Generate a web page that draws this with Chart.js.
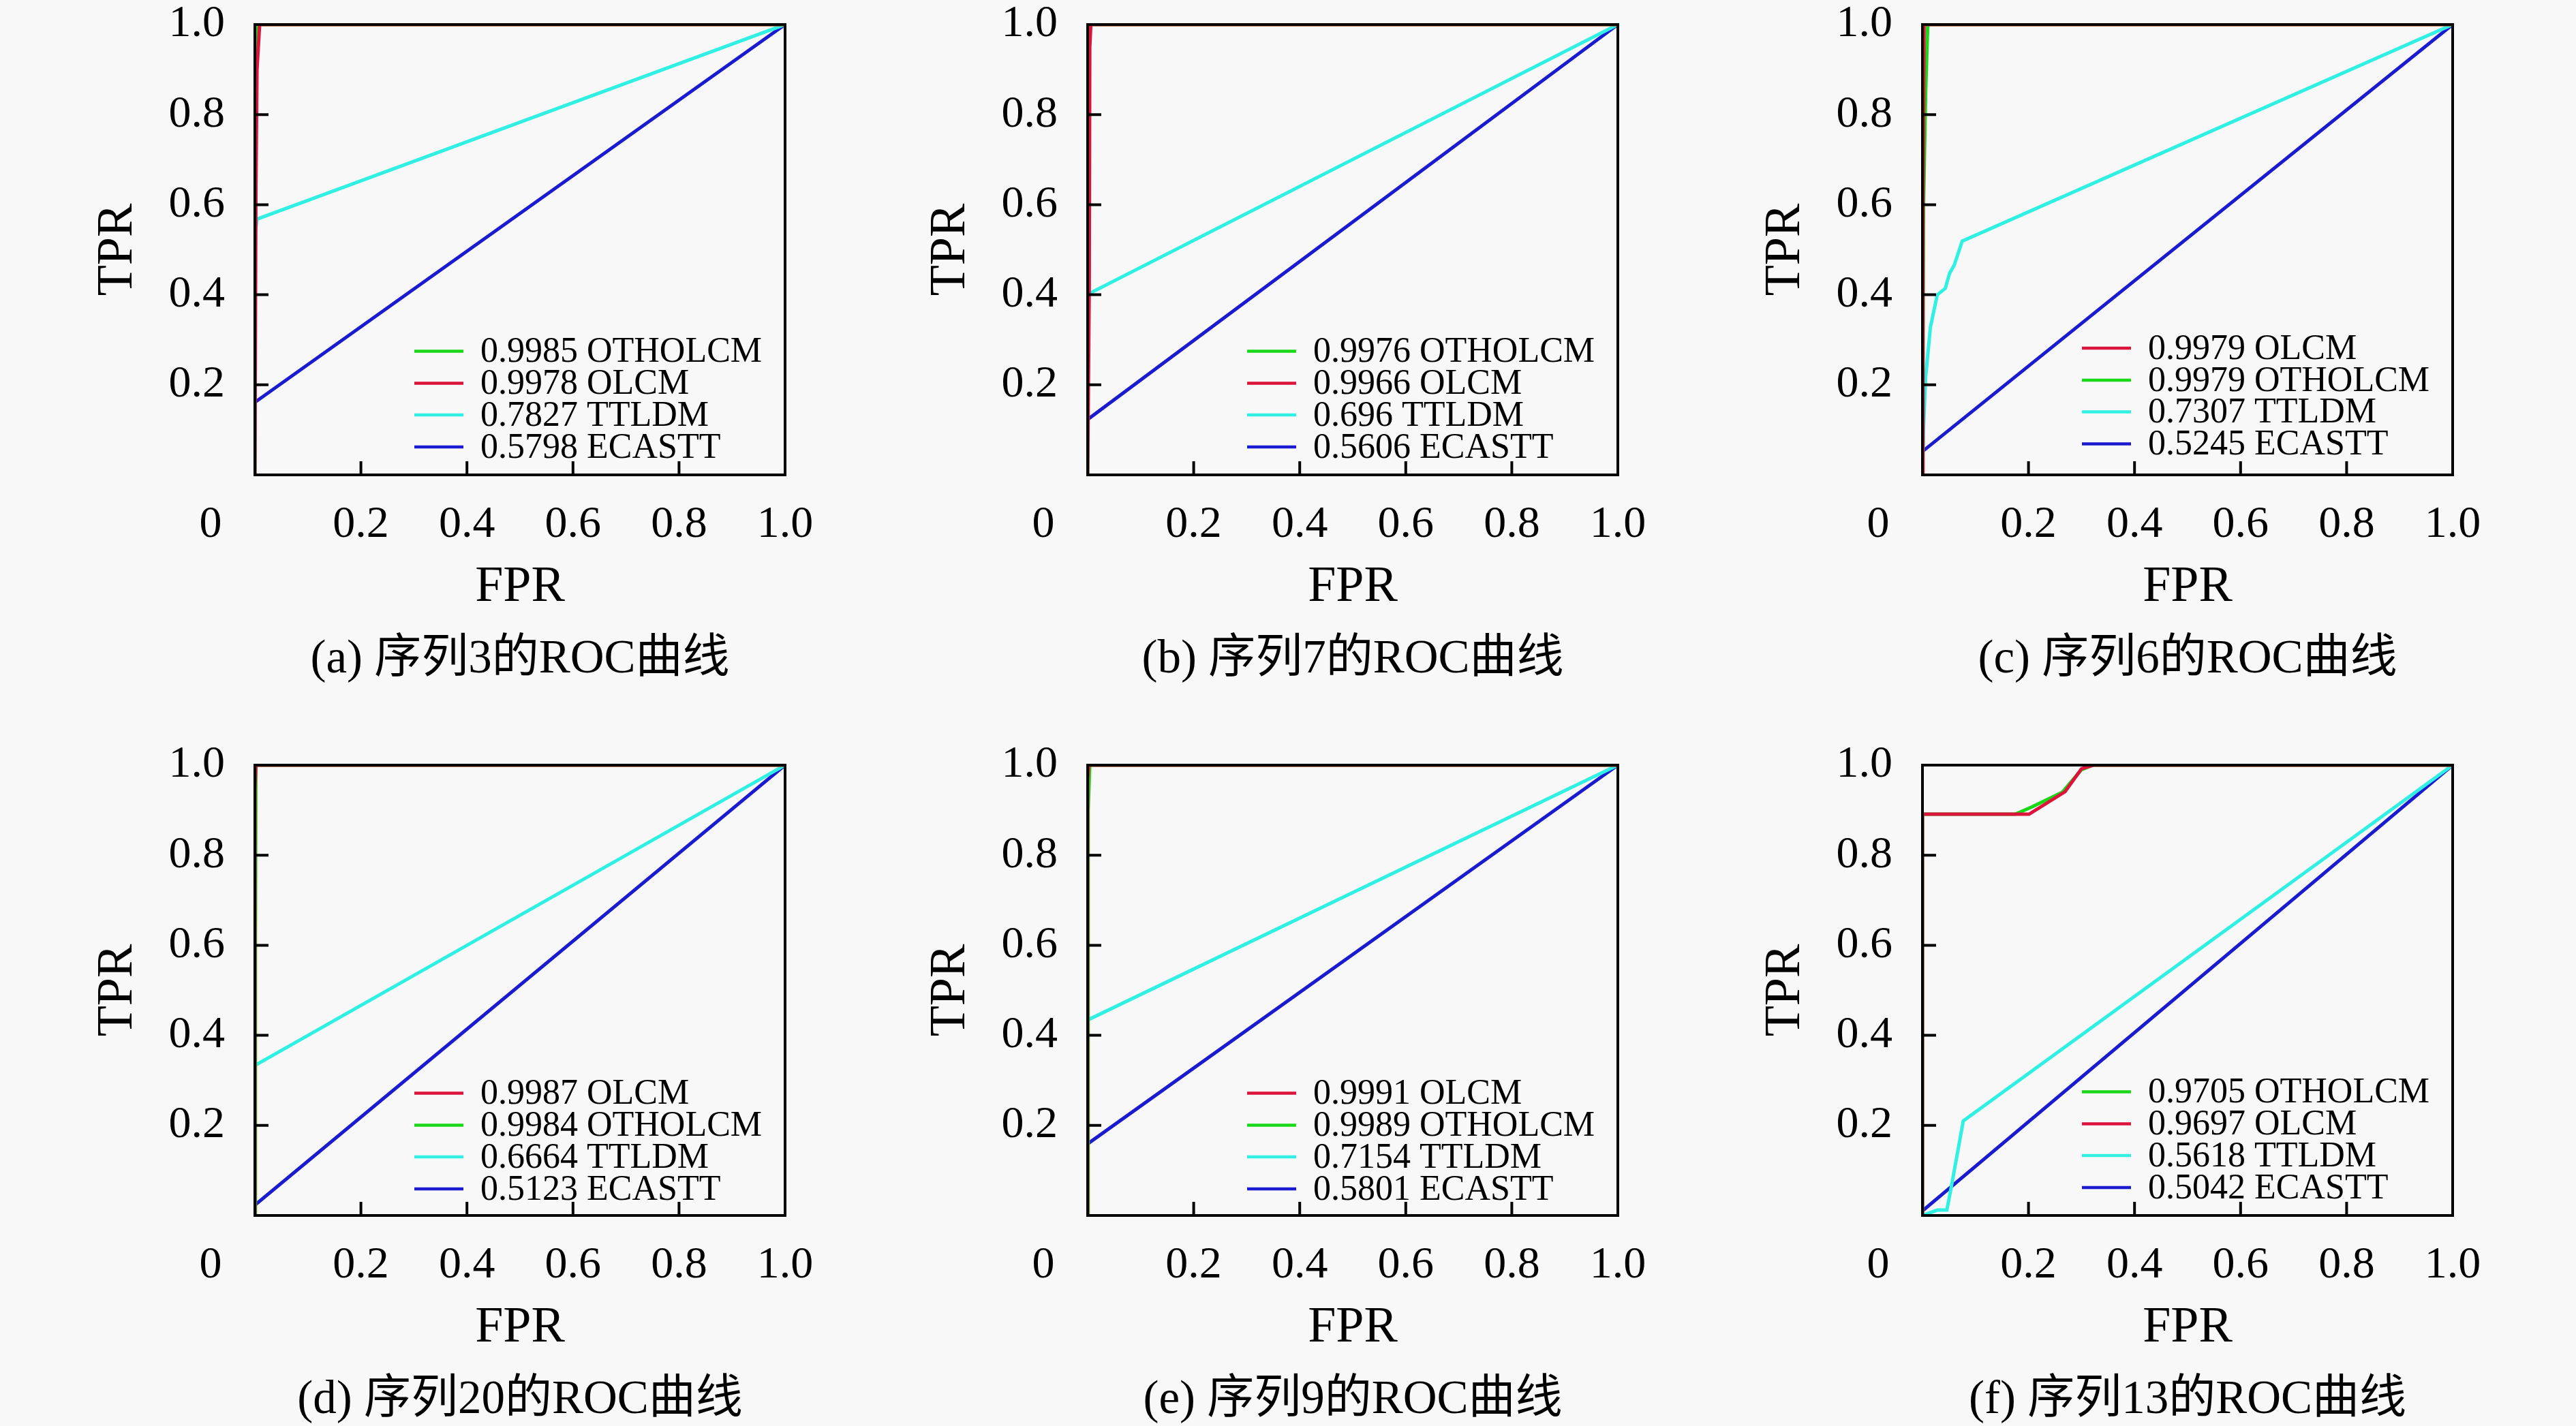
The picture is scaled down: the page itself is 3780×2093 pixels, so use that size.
<!DOCTYPE html>
<html>
<head>
<meta charset="utf-8">
<script src="https://cdn.jsdelivr.net/npm/chart.js@4.4.1/dist/chart.umd.min.js"></script>
<style>
  html, body { margin: 0; padding: 0; background: #f8f8f8; }
  #page { position: relative; width: 3780px; height: 2093px; overflow: hidden; background: #f8f8f8; }
  canvas { position: absolute; }
</style>
</head>
<body>
<div id="page"></div>
<script>
// ---------------- DATA ----------------
const CAPTIONS = ['(a) 序列3的ROC曲线', '(b) 序列7的ROC曲线', '(c) 序列6的ROC曲线',
                  '(d) 序列20的ROC曲线', '(e) 序列9的ROC曲线', '(f) 序列13的ROC曲线'];
const X_TITLE = 'FPR';
const Y_TITLE = 'TPR';

// (a) sequence 3
const A_METHODS = ['OTHOLCM', 'OLCM', 'TTLDM', 'ECASTT'];
const A_AUC = ['0.9985', '0.9978', '0.7827', '0.5798'];
const A_OTHOLCM_FPR = [0, 0, 0.003, 0.006, 1];
const A_OTHOLCM_TPR = [0, 0.70, 0.95, 1, 1];
const A_OLCM_FPR = [0, 0.002, 0.004, 0.009, 1];
const A_OLCM_TPR = [0, 0.64, 0.90, 1, 1];
const A_TTLDM_FPR = [0, 0, 0.004, 1];
const A_TTLDM_TPR = [0, 0.53, 0.568, 1];
const A_ECASTT_FPR = [0, 1];
const A_ECASTT_TPR = [0.161, 1];

// (b) sequence 7
const B_METHODS = ['OTHOLCM', 'OLCM', 'TTLDM', 'ECASTT'];
const B_AUC = ['0.9976', '0.9966', '0.696', '0.5606'];
const B_OTHOLCM_FPR = [0, 0, 0.003, 1];
const B_OTHOLCM_TPR = [0, 0.90, 1, 1];
const B_OLCM_FPR = [0, 0.003, 0.004, 0.006, 1];
const B_OLCM_TPR = [0, 0.42, 0.95, 1, 1];
const B_TTLDM_FPR = [0, 0, 1];
const B_TTLDM_TPR = [0, 0.401, 1];
const B_ECASTT_FPR = [0, 1];
const B_ECASTT_TPR = [0.123, 1];

// (c) sequence 6
const C_METHODS = ['OLCM', 'OTHOLCM', 'TTLDM', 'ECASTT'];
const C_AUC = ['0.9979', '0.9979', '0.7307', '0.5245'];
const C_OLCM_FPR = [0, 0.001, 0.003, 1];
const C_OLCM_TPR = [0, 0.60, 1, 1];
const C_OTHOLCM_FPR = [0, 0.002, 0.006, 0.010, 1];
const C_OTHOLCM_TPR = [0, 0.60, 0.85, 1, 1];
const C_TTLDM_FPR = [0, 0.002, 0.006, 0.015, 0.028, 0.043, 0.051, 0.060, 0.075, 1];
const C_TTLDM_TPR = [0, 0.105, 0.217, 0.328, 0.400, 0.414, 0.447, 0.466, 0.519, 1];
const C_ECASTT_FPR = [0, 1];
const C_ECASTT_TPR = [0.052, 1];

// (d) sequence 20
const D_METHODS = ['OLCM', 'OTHOLCM', 'TTLDM', 'ECASTT'];
const D_AUC = ['0.9987', '0.9984', '0.6664', '0.5123'];
const D_OLCM_FPR = [0, 0, 0.002, 1];
const D_OLCM_TPR = [0, 0.95, 1, 1];
const D_OTHOLCM_FPR = [0, 0.001, 0.002, 1];
const D_OTHOLCM_TPR = [0, 0.60, 1, 1];
const D_TTLDM_FPR = [0, 0, 1];
const D_TTLDM_TPR = [0, 0.333, 1];
const D_ECASTT_FPR = [0, 1];
const D_ECASTT_TPR = [0.023, 1];

// (e) sequence 9
const E_METHODS = ['OLCM', 'OTHOLCM', 'TTLDM', 'ECASTT'];
const E_AUC = ['0.9991', '0.9989', '0.7154', '0.5801'];
const E_OLCM_FPR = [0, 0, 0.002, 1];
const E_OLCM_TPR = [0, 0.97, 1, 1];
const E_OTHOLCM_FPR = [0, 0.001, 0.004, 1];
const E_OTHOLCM_TPR = [0, 0.90, 1, 1];
const E_TTLDM_FPR = [0, 0, 1];
const E_TTLDM_TPR = [0, 0.434, 1];
const E_ECASTT_FPR = [0, 1];
const E_ECASTT_TPR = [0.159, 1];

// (f) sequence 13
const F_METHODS = ['OTHOLCM', 'OLCM', 'TTLDM', 'ECASTT'];
const F_AUC = ['0.9705', '0.9697', '0.5618', '0.5042'];
const F_OTHOLCM_FPR = [0, 0, 0.175, 0.206, 0.264, 0.300, 0.322, 1];
const F_OTHOLCM_TPR = [0, 0.891, 0.891, 0.907, 0.940, 0.990, 1, 1];
const F_OLCM_FPR = [0, 0, 0.201, 0.269, 0.300, 0.322, 1];
const F_OLCM_TPR = [0, 0.891, 0.891, 0.941, 0.992, 1, 1];
const F_TTLDM_FPR = [0, 0.028, 0.046, 0.054, 0.077, 1];
const F_TTLDM_TPR = [0, 0.012, 0.012, 0.061, 0.210, 1];
const F_ECASTT_FPR = [0, 1];
const F_ECASTT_TPR = [0.010, 1];

const PANEL_SERIES = [
  { methods: A_METHODS, auc: A_AUC, fpr: [A_OTHOLCM_FPR, A_OLCM_FPR, A_TTLDM_FPR, A_ECASTT_FPR], tpr: [A_OTHOLCM_TPR, A_OLCM_TPR, A_TTLDM_TPR, A_ECASTT_TPR] },
  { methods: B_METHODS, auc: B_AUC, fpr: [B_OTHOLCM_FPR, B_OLCM_FPR, B_TTLDM_FPR, B_ECASTT_FPR], tpr: [B_OTHOLCM_TPR, B_OLCM_TPR, B_TTLDM_TPR, B_ECASTT_TPR] },
  { methods: C_METHODS, auc: C_AUC, fpr: [C_OLCM_FPR, C_OTHOLCM_FPR, C_TTLDM_FPR, C_ECASTT_FPR], tpr: [C_OLCM_TPR, C_OTHOLCM_TPR, C_TTLDM_TPR, C_ECASTT_TPR] },
  { methods: D_METHODS, auc: D_AUC, fpr: [D_OLCM_FPR, D_OTHOLCM_FPR, D_TTLDM_FPR, D_ECASTT_FPR], tpr: [D_OLCM_TPR, D_OTHOLCM_TPR, D_TTLDM_TPR, D_ECASTT_TPR] },
  { methods: E_METHODS, auc: E_AUC, fpr: [E_OLCM_FPR, E_OTHOLCM_FPR, E_TTLDM_FPR, E_ECASTT_FPR], tpr: [E_OLCM_TPR, E_OTHOLCM_TPR, E_TTLDM_TPR, E_ECASTT_TPR] },
  { methods: F_METHODS, auc: F_AUC, fpr: [F_OTHOLCM_FPR, F_OLCM_FPR, F_TTLDM_FPR, F_ECASTT_FPR], tpr: [F_OTHOLCM_TPR, F_OLCM_TPR, F_TTLDM_TPR, F_ECASTT_TPR] }
];

// ---------------- STYLE / LAYOUT ----------------
const METHOD_COLOR = { OTHOLCM: '#18d818', OLCM: '#dc143c', TTLDM: '#30f0e4', ECASTT: '#1a1ad0' };
const METHOD_ORDER = { OLCM: 1, OTHOLCM: 2, TTLDM: 3, ECASTT: 4 }; // lower = drawn on top
const FRAME_POS = [[374, 36], [1596, 36], [2821, 36], [374, 1123], [1596, 1123], [2821, 1123]];
const LEGEND_SHIFT = [0, 0, -4.5, 2, 2, 0];
const FRAME_W = 778, FRAME_H = 661;
const CANVAS_W = 1250, CANVAS_H = 1050;
const LEFT_W = 374, TOP_PAD = 80;
const SERIF = '"Liberation Serif", "Noto Sans CJK SC", serif';

const decorPlugin = {
  id: 'decor',
  afterDatasetsDraw(chart, args, opts) {
    const { ctx, chartArea: ca } = chart;
    const xs = chart.scales.x, ys = chart.scales.y;
    ctx.save();
    // frame
    ctx.strokeStyle = '#000';
    ctx.lineWidth = 4;
    ctx.strokeRect(ca.left, ca.top, ca.right - ca.left, ca.bottom - ca.top);
    // inward tick marks
    ctx.lineWidth = 4;
    ctx.beginPath();
    xs.ticks.forEach(t => {
      if (t.value > 1e-6 && t.value < 1 - 1e-6) {
        const px = xs.getPixelForValue(t.value);
        ctx.moveTo(px, ca.bottom); ctx.lineTo(px, ca.bottom - 20);
      }
    });
    ys.ticks.forEach(t => {
      if (t.value > 1e-6 && t.value < 1 - 1e-6) {
        const py = ys.getPixelForValue(t.value);
        ctx.moveTo(ca.left, py); ctx.lineTo(ca.left + 20, py);
      }
    });
    ctx.stroke();
    // legend
    const rows = [-181.5, -134.5, -88, -41];
    chart.data.datasets.forEach((ds, i) => {
      const yy = ca.bottom + rows[i] + opts.legendShift;
      ctx.strokeStyle = ds.borderColor;
      ctx.lineWidth = 4.5;
      ctx.beginPath();
      ctx.moveTo(ca.left + 234, yy); ctx.lineTo(ca.left + 306, yy);
      ctx.stroke();
      ctx.fillStyle = '#000';
      ctx.font = '52px ' + SERIF;
      ctx.textAlign = 'left';
      ctx.textBaseline = 'middle';
      ctx.fillText(ds.label, ca.left + 331, yy + 2);
    });
    // "0" corner label
    ctx.fillStyle = '#000';
    ctx.font = '66px ' + SERIF;
    ctx.textAlign = 'center';
    ctx.textBaseline = 'middle';
    ctx.fillText('0', xs.getPixelForValue(0) - 65, ca.bottom + 74);
    // axis titles
    ctx.font = '74px ' + SERIF;
    ctx.fillText(X_TITLE, (ca.left + ca.right) / 2, ca.bottom + 166);
    ctx.save();
    ctx.translate(ca.left - 200, (ca.top + ca.bottom) / 2);
    ctx.rotate(-Math.PI / 2);
    ctx.fillText(Y_TITLE, 0, 0);
    ctx.restore();
    // caption
    ctx.font = '69px ' + SERIF;
    ctx.fillText(opts.caption, (ca.left + ca.right) / 2, ca.bottom + 272);
    ctx.restore();
  }
};

const page = document.getElementById('page');
PANEL_SERIES.forEach((p, k) => {
  const cv = document.createElement('canvas');
  cv.width = CANVAS_W; cv.height = CANVAS_H;
  cv.style.width = CANVAS_W + 'px'; cv.style.height = CANVAS_H + 'px';
  cv.style.left = (FRAME_POS[k][0] - LEFT_W) + 'px';
  cv.style.top = (FRAME_POS[k][1] - TOP_PAD) + 'px';
  page.appendChild(cv);

  const datasets = p.methods.map((m, i) => ({
    label: p.auc[i] + ' ' + m,
    data: p.fpr[i].map((x, j) => ({ x: x, y: p.tpr[i][j] })),
    borderColor: METHOD_COLOR[m],
    backgroundColor: METHOD_COLOR[m],
    borderWidth: 5,
    pointRadius: 0,
    showLine: true,
    fill: false,
    tension: 0,
    order: METHOD_ORDER[m]
  }));

  const tickFmt = v => (Math.abs(v) < 1e-9 ? '' : Number(v).toFixed(1));
  new Chart(cv, {
    type: 'scatter',
    data: { datasets },
    options: {
      responsive: false,
      animation: false,
      devicePixelRatio: 1,
      layout: { padding: { left: 0, top: TOP_PAD, right: CANVAS_W - LEFT_W - FRAME_W, bottom: 0 } },
      plugins: {
        legend: { display: false },
        tooltip: { enabled: false },
        decor: { caption: CAPTIONS[k], legendShift: LEGEND_SHIFT[k] }
      },
      scales: {
        x: {
          type: 'linear', min: 0, max: 1,
          afterFit(s) { s.height = CANVAS_H - TOP_PAD - FRAME_H; },
          grid: { display: false, drawTicks: false },
          border: { display: false },
          ticks: { stepSize: 0.2, padding: 41, autoSkip: false, maxRotation: 0, color: '#000',
                   font: { family: SERIF, size: 66, lineHeight: 1 }, callback: tickFmt }
        },
        y: {
          type: 'linear', min: 0, max: 1,
          afterFit(s) { s.width = LEFT_W; },
          grid: { display: false, drawTicks: false },
          border: { display: false },
          ticks: { stepSize: 0.2, padding: 44, autoSkip: false, color: '#000',
                   font: { family: SERIF, size: 66, lineHeight: 1 }, callback: tickFmt }
        }
      }
    },
    plugins: [decorPlugin]
  });
});
</script>
</body>
</html>
